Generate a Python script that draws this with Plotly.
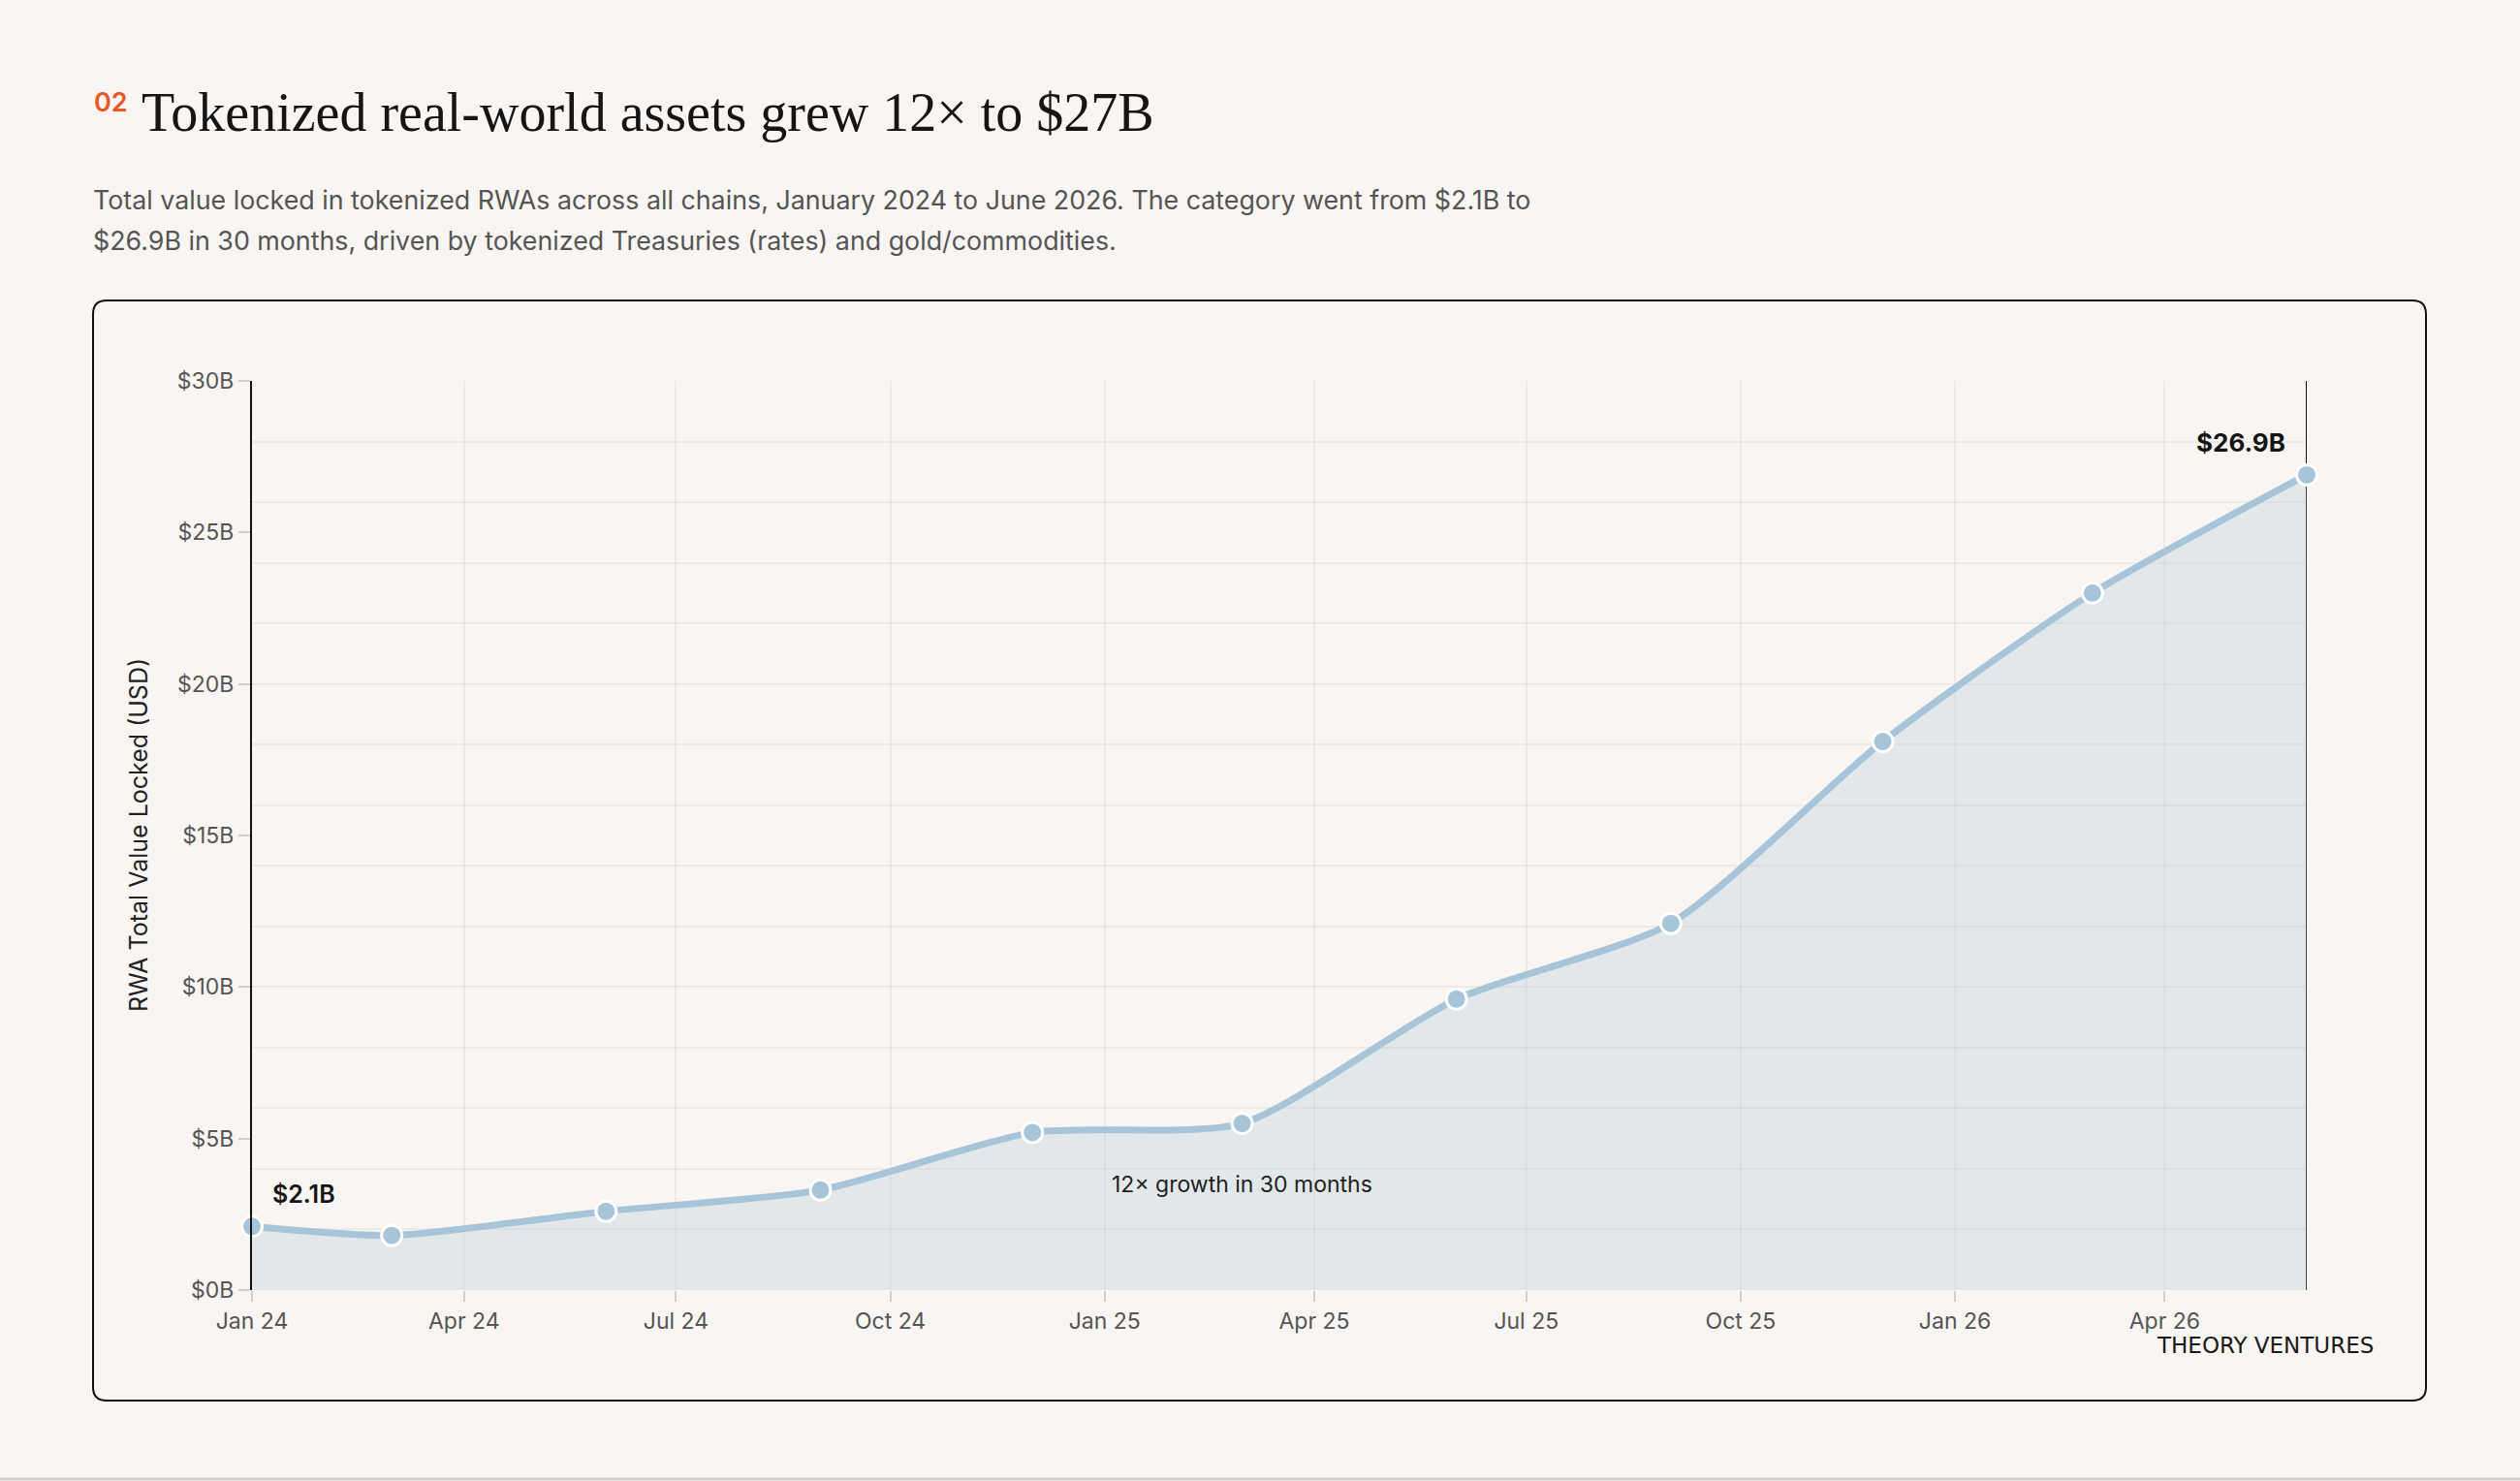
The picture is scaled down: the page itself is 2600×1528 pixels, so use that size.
import plotly.graph_objects as go

# data (USD billions)
months = ["2024-01-01", "2024-03-01", "2024-06-01", "2024-09-01", "2024-12-01",
          "2025-03-01", "2025-06-01", "2025-09-01", "2025-12-01", "2026-03-01",
          "2026-06-01"]
tvl_b = [2.1, 1.8, 2.6, 3.3, 5.2, 5.5, 9.6, 12.1, 18.1, 23.0, 26.9]

x_tick_dates = ["2024-01-01", "2024-04-01", "2024-07-01", "2024-10-01",
                "2025-01-01", "2025-04-01", "2025-07-01", "2025-10-01",
                "2026-01-01", "2026-04-01"]
x_tick_labels = ["Jan 24", "Apr 24", "Jul 24", "Oct 24", "Jan 25", "Apr 25",
                 "Jul 25", "Oct 25", "Jan 26", "Apr 26"]
y_tick_vals = [0, 5, 10, 15, 20, 25, 30]
y_tick_labels = ["$0B", "$5B", "$10B", "$15B", "$20B", "$25B", "$30B"]

W, H = 2600, 1528
PL, PR, PT, PB = 260, 2380, 393, 1331   # plot area in pixels

BG = "#f8f5f2"
LINE = "rgb(168,196,216)"
FILL = "rgba(168,196,216,0.28)"
GRID = "rgba(0,0,0,0.045)"
SANS = "Inter, 'DejaVu Sans', sans-serif"


def px(x):
    return (x - PL) / (PR - PL)


def py(y):
    return (PB - y) / (PB - PT)


fig = go.Figure()

fig.add_trace(go.Scatter(
    x=months, y=tvl_b,
    mode="lines+markers",
    line=dict(color=LINE, width=7, shape="spline", smoothing=0.65),
    fill="tozeroy", fillcolor=FILL,
    marker=dict(size=21, color=LINE, line=dict(color="white", width=3)),
    cliponaxis=False,
    hoverinfo="x+y",
))

# card outline with rounded corners (paper coords)
x0, x1, y0, y1, r = 96, 2503, 310, 1445, 14
card = (f"M {px(x0 + r)},{py(y0)} L {px(x1 - r)},{py(y0)} "
        f"Q {px(x1)},{py(y0)} {px(x1)},{py(y0 + r)} "
        f"L {px(x1)},{py(y1 - r)} Q {px(x1)},{py(y1)} {px(x1 - r)},{py(y1)} "
        f"L {px(x0 + r)},{py(y1)} Q {px(x0)},{py(y1)} {px(x0)},{py(y1 - r)} "
        f"L {px(x0)},{py(y0 + r)} Q {px(x0)},{py(y0)} {px(x0 + r)},{py(y0)} Z")
fig.add_shape(type="path", path=card, xref="paper", yref="paper",
              line=dict(color="#111111", width=2), layer="below")

# end rule at the last month
fig.add_shape(type="line", x0=months[-1], x1=months[-1], y0=0, y1=30,
              xref="x", yref="y", line=dict(color="#111111", width=2),
              layer="between")

# page bottom border
fig.add_shape(type="line", x0=px(0), x1=px(W), y0=py(1526), y1=py(1526),
              xref="paper", yref="paper", line=dict(color="#d2d2d2", width=3))

annotations = [
    dict(text="02", x=px(95), y=py(105), xanchor="left", yanchor="middle",
         font=dict(family=SANS, size=27, color="#e8582b", weight=600)),
    dict(text="Tokenized real-world assets grew 12× to $27B",
         x=px(144), y=py(116), xanchor="left", yanchor="middle",
         font=dict(family="'Liberation Serif', serif", size=56, color="#151515")),
    dict(text="Total value locked in tokenized RWAs across all chains, January 2024 "
              "to June 2026. The category went from $2.1B to",
         x=px(94), y=py(206), xanchor="left", yanchor="middle",
         font=dict(family=SANS, size=26.8, color="#555555")),
    dict(text="$26.9B in 30 months, driven by tokenized Treasuries (rates) and "
              "gold/commodities.",
         x=px(94), y=py(248), xanchor="left", yanchor="middle",
         font=dict(family=SANS, size=26.8, color="#555555")),
    dict(text="RWA Total Value Locked (USD)", textangle=-90,
         x=px(143), y=py(862), xanchor="center", yanchor="middle",
         font=dict(family=SANS, size=25, color="#222222")),
    dict(text="$2.1B", x=months[0], y=tvl_b[0], xref="x", yref="y",
         xanchor="left", yanchor="middle", xshift=19, yshift=33,
         font=dict(family=SANS, size=25, color="#151515", weight=600)),
    dict(text="$26.9B", x=months[-1], y=tvl_b[-1], xref="x", yref="y",
         xanchor="right", yanchor="middle", xshift=-20, yshift=33,
         font=dict(family=SANS, size=26, color="#151515", weight=700)),
    dict(text="12× growth in 30 months", x=months[5], y=3.5, xref="x", yref="y",
         xanchor="center", yanchor="middle",
         font=dict(family=SANS, size=23, color="#222222")),
    dict(text="THEORY VENTURES", x=px(2451), y=py(1388),
         xanchor="right", yanchor="middle",
         font=dict(family="'DejaVu Sans', sans-serif", size=23, color="#1a1a1a",
                   weight=500)),
]
for a in annotations:
    a.setdefault("xref", "paper")
    a.setdefault("yref", "paper")
    a["showarrow"] = False

fig.update_layout(
    width=W, height=H,
    margin=dict(l=PL, r=W - PR, t=PT, b=H - PB, pad=0),
    paper_bgcolor=BG, plot_bgcolor="rgba(0,0,0,0)",
    showlegend=False,
    annotations=annotations,
    font=dict(family=SANS, size=24, color="#555555"),
    xaxis=dict(
        type="date", range=[months[0], months[-1]],
        tickmode="array", tickvals=x_tick_dates, ticktext=x_tick_labels,
        ticks="outside", ticklen=11, tickwidth=2, tickcolor="#cfcfcf",
        showgrid=True, gridcolor=GRID, gridwidth=2,
        zeroline=False, showline=False,
        tickfont=dict(family=SANS, size=23, color="#555555"),
    ),
    yaxis=dict(
        range=[0, 30],
        tickmode="array", tickvals=y_tick_vals, ticktext=y_tick_labels,
        ticks="outside", ticklen=12, tickwidth=2, tickcolor="#cfcfcf",
        showgrid=False, zeroline=False,
        showline=True, linecolor="#111111", linewidth=2,
        minor=dict(dtick=2, tick0=0, showgrid=True,
                   gridcolor=GRID, gridwidth=2, ticks=""),
        tickfont=dict(family=SANS, size=23, color="#555555"),
    ),
)

fig.write_html("out.html", config={"displayModeBar": False},
               post_script="document.body.style.margin='0';")
